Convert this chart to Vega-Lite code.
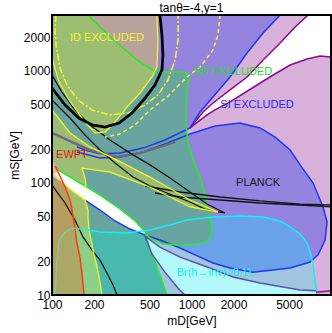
{
"$schema":"https://vega.github.io/schema/vega-lite/v6.json",
"autosize":{"type":"none"},
"padding":{"left":52,"top":15,"right":1,"bottom":38},
"width":279,"height":280,
"title":{"text":"tanθ=-4,y=1","fontSize":12,"fontWeight":"normal","font":"Liberation Sans","color":"#000","offset":-4,"anchor":"middle"},
"config":{"view":{"fill":"#d7b1d9","stroke":"#000","strokeWidth":2},
"axis":{"domain":false,"grid":false,"tickColor":"#000","tickSize":-4,"labelFlush":false,"labelOverlap":false,"labelFont":"Liberation Sans","labelFontSize":12,"labelColor":"#000","titleFont":"Liberation Sans","titleFontSize":12,"titleFontWeight":"normal","titleColor":"#000"}},
"data":{"values":[
{"r":"wTR","x":6855,"y":3162},{"r":"wTR","x":10000,"y":3162},{"r":"wTR","x":10000,"y":1334},{"r":"wTR","x":8348,"y":1361},{"r":"wTR","x":6743,"y":1280},{"r":"wTR","x":5093,"y":1131},{"r":"wTR","x":3848,"y":921},{"r":"wTR","x":2951,"y":750},{"r":"wTR","x":1889,"y":529},{"r":"wTR","x":1474,"y":449},{"r":"wTR","x":1293,"y":405},{"r":"wTR","x":976,"y":310},{"r":"wTR","x":1210,"y":430},{"r":"wTR","x":1426,"y":518},{"r":"wTR","x":1889,"y":677},{"r":"wTR","x":2501,"y":884},{"r":"wTR","x":3260,"y":1254},{"r":"wTR","x":4318,"y":1778},{"r":"wTR","x":5531,"y":2471},
{"r":"pUp","x":100,"y":3162},{"r":"pUp","x":4318,"y":3162},{"r":"pUp","x":3260,"y":2184},{"r":"pUp","x":2501,"y":1448},{"r":"pUp","x":1889,"y":884},{"r":"pUp","x":1426,"y":586},{"r":"pUp","x":1151,"y":430},{"r":"pUp","x":976,"y":310},{"r":"pUp","x":645,"y":242},{"r":"pUp","x":450,"y":205},{"r":"pUp","x":307,"y":185},{"r":"pUp","x":221,"y":182},{"r":"pUp","x":172,"y":197},{"r":"pUp","x":151,"y":210},{"r":"pUp","x":100,"y":242},
{"r":"blob","x":151,"y":189},{"r":"blob","x":221,"y":167},{"r":"blob","x":307,"y":171},{"r":"blob","x":450,"y":189},{"r":"blob","x":645,"y":223},{"r":"blob","x":976,"y":274},{"r":"blob","x":1474,"y":323},{"r":"blob","x":2228,"y":343},{"r":"blob","x":3101,"y":310},{"r":"blob","x":3976,"y":257},{"r":"blob","x":5093,"y":197},{"r":"blob","x":6007,"y":145},{"r":"blob","x":7442,"y":100},{"r":"blob","x":8777,"y":61.1},{"r":"blob","x":9373,"y":44.9},{"r":"blob","x":9069,"y":31},{"r":"blob","x":8079,"y":22.8},{"r":"blob","x":7085,"y":19.7},{"r":"blob","x":5093,"y":17.4},{"r":"blob","x":2763,"y":16},{"r":"blob","x":1889,"y":17.4},{"r":"blob","x":1426,"y":19.3},{"r":"blob","x":1060,"y":22.8},{"r":"blob","x":828,"y":26.3},{"r":"blob","x":594,"y":31},{"r":"blob","x":465,"y":34.3},{"r":"blob","x":221,"y":63.6},{"r":"blob","x":135,"y":106},{"r":"blob","x":100,"y":145},{"r":"blob","x":100,"y":189},
{"r":"cyanP","x":105.1,"y":10},{"r":"cyanP","x":108.6,"y":20.5},{"r":"cyanP","x":112.2,"y":31},{"r":"cyanP","x":124,"y":36.5},{"r":"cyanP","x":139.1,"y":39.6},{"r":"cyanP","x":164.1,"y":38.8},{"r":"cyanP","x":221,"y":36.5},{"r":"cyanP","x":345,"y":35.8},{"r":"cyanP","x":504,"y":38},{"r":"cyanP","x":701,"y":42.2},{"r":"cyanP","x":929,"y":46.7},{"r":"cyanP","x":1426,"y":49.7},{"r":"cyanP","x":2228,"y":50.7},{"r":"cyanP","x":3260,"y":49.7},{"r":"cyanP","x":4318,"y":45.8},{"r":"cyanP","x":5093,"y":40.5},{"r":"cyanP","x":6007,"y":35},{"r":"cyanP","x":6743,"y":29.1},{"r":"cyanP","x":7202,"y":22.8},{"r":"cyanP","x":7442,"y":17.8},{"r":"cyanP","x":7690,"y":13.6},{"r":"cyanP","x":7947,"y":10},
{"r":"blueP","x":465,"y":35.8},{"r":"blueP","x":504,"y":38},{"r":"blueP","x":701,"y":42.2},{"r":"blueP","x":929,"y":46.7},{"r":"blueP","x":1426,"y":49.7},{"r":"blueP","x":2228,"y":50.7},{"r":"blueP","x":3260,"y":49.7},{"r":"blueP","x":4318,"y":45.8},{"r":"blueP","x":5093,"y":40.5},{"r":"blueP","x":6007,"y":35},{"r":"blueP","x":6743,"y":29.1},{"r":"blueP","x":7202,"y":22.8},{"r":"blueP","x":7321,"y":21},{"r":"blueP","x":7085,"y":19.7},{"r":"blueP","x":5093,"y":17.4},{"r":"blueP","x":2763,"y":16},{"r":"blueP","x":1889,"y":17.4},{"r":"blueP","x":1426,"y":19.3},{"r":"blueP","x":1060,"y":22.8},{"r":"blueP","x":828,"y":26.3},{"r":"blueP","x":594,"y":31},{"r":"blueP","x":465,"y":34.3},
{"r":"steelA","x":465,"y":34.3},{"r":"steelA","x":594,"y":31},{"r":"steelA","x":828,"y":26.3},{"r":"steelA","x":1060,"y":22.8},{"r":"steelA","x":1426,"y":19.3},{"r":"steelA","x":1889,"y":17.4},{"r":"steelA","x":2763,"y":16},{"r":"steelA","x":5093,"y":17.4},{"r":"steelA","x":7085,"y":19.7},{"r":"steelA","x":7321,"y":18.5},{"r":"steelA","x":7442,"y":16.7},{"r":"steelA","x":7690,"y":13.6},{"r":"steelA","x":7818,"y":10.9},{"r":"steelA","x":6007,"y":11.1},{"r":"steelA","x":3101,"y":12.8},{"r":"steelA","x":1986,"y":14.5},{"r":"steelA","x":1293,"y":17.8},{"r":"steelA","x":828,"y":21.8},{"r":"steelA","x":594,"y":26.8},{"r":"steelA","x":465,"y":33.6},
{"r":"steelB","x":450,"y":35},{"r":"steelB","x":504,"y":25.2},{"r":"steelB","x":547,"y":19.7},{"r":"steelB","x":594,"y":15.1},{"r":"steelB","x":667,"y":10},{"r":"steelB","x":898,"y":10},{"r":"steelB","x":801,"y":11.5},{"r":"steelB","x":645,"y":16},{"r":"steelB","x":521,"y":23.2},{"r":"steelB","x":465,"y":33},
{"r":"R5","x":100,"y":3162},{"r":"R5","x":181,"y":3162},{"r":"R5","x":221,"y":2471},{"r":"R5","x":293,"y":1778},{"r":"R5","x":407,"y":1254},{"r":"R5","x":529,"y":1021},{"r":"R5","x":667,"y":980},{"r":"R5","x":828,"y":980},{"r":"R5","x":929,"y":959},{"r":"R5","x":960,"y":865},{"r":"R5","x":929,"y":677},{"r":"R5","x":913,"y":449},{"r":"R5","x":913,"y":330},{"r":"R5","x":944,"y":228},{"r":"R5","x":1060,"y":145},{"r":"R5","x":1151,"y":113},{"r":"R5","x":1251,"y":78.1},{"r":"R5","x":1314,"y":57.4},{"r":"R5","x":1380,"y":44.9},{"r":"R5","x":1403,"y":36.5},{"r":"R5","x":1314,"y":30.4},{"r":"R5","x":1095,"y":28.5},{"r":"R5","x":828,"y":28},{"r":"R5","x":624,"y":28.5},{"r":"R5","x":504,"y":32.3},{"r":"R5","x":465,"y":35.8},{"r":"R5","x":394,"y":45.8},{"r":"R5","x":307,"y":58.6},{"r":"R5","x":221,"y":78.1},{"r":"R5","x":159,"y":100},{"r":"R5","x":110,"y":131},{"r":"R5","x":100,"y":142},
{"r":"LL","x":100,"y":115},{"r":"LL","x":110.4,"y":111},{"r":"LL","x":134.6,"y":88.4},{"r":"LL","x":172.4,"y":70.5},{"r":"LL","x":221,"y":57.4},{"r":"LL","x":283,"y":45.8},{"r":"LL","x":363,"y":38.8},{"r":"LL","x":465,"y":35},{"r":"LL","x":504,"y":25.2},{"r":"LL","x":547,"y":19.7},{"r":"LL","x":594,"y":15.1},{"r":"LL","x":667,"y":10},{"r":"LL","x":100,"y":10},
{"r":"LLc","x":105.1,"y":10},{"r":"LLc","x":108.6,"y":20.5},{"r":"LLc","x":112.2,"y":31},{"r":"LLc","x":124,"y":36.5},{"r":"LLc","x":139.1,"y":39.6},{"r":"LLc","x":164.1,"y":38.8},{"r":"LLc","x":221,"y":36.5},{"r":"LLc","x":345,"y":35.8},{"r":"LLc","x":465,"y":35},{"r":"LLc","x":504,"y":25.2},{"r":"LLc","x":547,"y":19.7},{"r":"LLc","x":594,"y":15.1},{"r":"LLc","x":667,"y":10},
{"r":"brown","x":100,"y":106},{"r":"brown","x":117.9,"y":102},{"r":"brown","x":124,"y":92.1},{"r":"brown","x":134.6,"y":70.5},{"r":"brown","x":139.1,"y":57.4},{"r":"brown","x":146.1,"y":39.6},{"r":"brown","x":151,"y":29.1},{"r":"brown","x":158.7,"y":21.4},{"r":"brown","x":164.1,"y":15.7},{"r":"brown","x":169.6,"y":10},{"r":"brown","x":100,"y":10},
{"r":"brownIn","x":105.1,"y":10},{"r":"brownIn","x":108.6,"y":20.5},{"r":"brownIn","x":112.2,"y":31},{"r":"brownIn","x":124,"y":36.5},{"r":"brownIn","x":139.1,"y":39.6},{"r":"brownIn","x":146.1,"y":38.8},{"r":"brownIn","x":151,"y":29.1},{"r":"brownIn","x":158.7,"y":21.4},{"r":"brownIn","x":164.1,"y":15.7},{"r":"brownIn","x":169.6,"y":10},
{"r":"olStrip","x":124,"y":92.1},{"r":"olStrip","x":134.6,"y":88.4},{"r":"olStrip","x":172.4,"y":70.5},{"r":"olStrip","x":181.2,"y":57.4},{"r":"olStrip","x":181.2,"y":48.7},{"r":"olStrip","x":184.2,"y":38.8},{"r":"olStrip","x":146.1,"y":38.8},{"r":"olStrip","x":139.1,"y":57.4},{"r":"olStrip","x":134.6,"y":70.5},
{"r":"lgStrip","x":146.1,"y":38.8},{"r":"lgStrip","x":184.2,"y":38.8},{"r":"lgStrip","x":187.3,"y":34.3},{"r":"lgStrip","x":193.6,"y":28},{"r":"lgStrip","x":200.1,"y":22.8},{"r":"lgStrip","x":210.2,"y":17.8},{"r":"lgStrip","x":217.3,"y":14.5},{"r":"lgStrip","x":228.4,"y":10},{"r":"lgStrip","x":169.6,"y":10},{"r":"lgStrip","x":164.1,"y":15.7},{"r":"lgStrip","x":158.7,"y":21.4},{"r":"lgStrip","x":151,"y":29.1},
{"r":"ID","x":100,"y":3162},{"r":"ID","x":565,"y":3162},{"r":"ID","x":575,"y":1778},{"r":"ID","x":565,"y":1086},{"r":"ID","x":521,"y":884},{"r":"ID","x":428,"y":636},{"r":"ID","x":345,"y":477},{"r":"ID","x":283,"y":350},{"r":"ID","x":240,"y":285},{"r":"ID","x":203.4,"y":280},{"r":"ID","x":172.4,"y":350},{"r":"ID","x":132.4,"y":551},{"r":"ID","x":112.2,"y":798},{"r":"ID","x":100,"y":1306},
{"r":"mauve","x":181,"y":3162},{"r":"mauve","x":565,"y":3162},{"r":"mauve","x":575,"y":1778},{"r":"mauve","x":565,"y":1086},{"r":"mauve","x":529,"y":1021},{"r":"mauve","x":407,"y":1254},{"r":"mauve","x":293,"y":1778},{"r":"mauve","x":221,"y":2471},
{"r":"band2","x":100,"y":449},{"r":"band2","x":134.6,"y":280},{"r":"band2","x":187.3,"y":210},{"r":"band2","x":292.7,"y":160},{"r":"band2","x":504,"y":113},{"r":"band2","x":976,"y":70.5},{"r":"band2","x":1546,"y":55.1},{"r":"band2","x":976,"y":61.1},{"r":"band2","x":504,"y":92.1},{"r":"band2","x":260.5,"y":125},{"r":"band2","x":164.1,"y":136},{"r":"band2","x":172.4,"y":111},{"r":"band2","x":175.3,"y":90.2},{"r":"band2","x":158.7,"y":98},{"r":"band2","x":110.4,"y":131},{"r":"band2","x":100,"y":136},
{"r":"pinkSpot","x":100,"y":167},{"r":"pinkSpot","x":106.8,"y":142},{"r":"pinkSpot","x":114.1,"y":120},{"r":"pinkSpot","x":119.9,"y":102},{"r":"pinkSpot","x":110.4,"y":106},{"r":"pinkSpot","x":100,"y":115},
{"r":"wedge","x":110.4,"y":131},{"r":"wedge","x":158.7,"y":100},{"r":"wedge","x":220.9,"y":78.1},{"r":"wedge","x":307.4,"y":58.6},{"r":"wedge","x":394.2,"y":45.8},{"r":"wedge","x":465,"y":36.5},{"r":"wedge","x":450,"y":35},{"r":"wedge","x":362.8,"y":38.8},{"r":"wedge","x":283.2,"y":45.8},{"r":"wedge","x":220.9,"y":57.4},{"r":"wedge","x":172.4,"y":70.5},{"r":"wedge","x":134.6,"y":88.4},{"r":"wedge","x":110.4,"y":111},{"r":"wedge","x":105.1,"y":120},
{"r":"purU","x":6855,"y":3162},{"r":"purU","x":5531,"y":2471},{"r":"purU","x":4318,"y":1778},{"r":"purU","x":3260,"y":1254},{"r":"purU","x":2501,"y":884},{"r":"purU","x":1889,"y":677},{"r":"purU","x":1426,"y":518},{"r":"purU","x":1210,"y":430},{"r":"purU","x":976,"y":310},
{"r":"purL","x":10000,"y":1334},{"r":"purL","x":8348,"y":1361},{"r":"purL","x":6743,"y":1280},{"r":"purL","x":5093,"y":1131},{"r":"purL","x":3848,"y":921},{"r":"purL","x":2951,"y":750},{"r":"purL","x":1889,"y":529},{"r":"purL","x":1474,"y":449},{"r":"purL","x":1293,"y":405},{"r":"purL","x":976,"y":310},
{"r":"B1","x":4318,"y":3162},{"r":"B1","x":3260,"y":2184},{"r":"B1","x":2501,"y":1448},{"r":"B1","x":1889,"y":884},{"r":"B1","x":1426,"y":586},{"r":"B1","x":1151,"y":430},{"r":"B1","x":976,"y":310},{"r":"B1","x":645,"y":242},{"r":"B1","x":450,"y":205},{"r":"B1","x":307,"y":185},{"r":"B1","x":221,"y":182},{"r":"B1","x":172,"y":197},{"r":"B1","x":151,"y":210},
{"r":"B2","x":151,"y":189},{"r":"B2","x":221,"y":167},{"r":"B2","x":307,"y":171},{"r":"B2","x":450,"y":189},{"r":"B2","x":645,"y":223},{"r":"B2","x":976,"y":274},{"r":"B2","x":1474,"y":323},{"r":"B2","x":2228,"y":343},{"r":"B2","x":3101,"y":310},{"r":"B2","x":3976,"y":257},{"r":"B2","x":5093,"y":197},{"r":"B2","x":6007,"y":145},{"r":"B2","x":7442,"y":100},{"r":"B2","x":8777,"y":61.1},{"r":"B2","x":9373,"y":44.9},{"r":"B2","x":9069,"y":31},{"r":"B2","x":8079,"y":22.8},{"r":"B2","x":7085,"y":19.7},{"r":"B2","x":5093,"y":17.4},{"r":"B2","x":2763,"y":16},{"r":"B2","x":1889,"y":17.4},{"r":"B2","x":1426,"y":19.3},{"r":"B2","x":1060,"y":22.8},{"r":"B2","x":828,"y":26.3},{"r":"B2","x":594,"y":31},{"r":"B2","x":465,"y":34.3},{"r":"B2","x":362.8,"y":38.8},{"r":"B2","x":283.2,"y":45.8},{"r":"B2","x":220.9,"y":57.4},{"r":"B2","x":172.4,"y":70.5},
{"r":"G1","x":181,"y":3162},{"r":"G1","x":221,"y":2471},{"r":"G1","x":293,"y":1778},{"r":"G1","x":407,"y":1254},{"r":"G1","x":529,"y":1021},{"r":"G1","x":667,"y":980},{"r":"G1","x":828,"y":980},{"r":"G1","x":929,"y":959},{"r":"G1","x":960,"y":865},{"r":"G1","x":929,"y":677},{"r":"G1","x":913,"y":449},{"r":"G1","x":913,"y":330},{"r":"G1","x":944,"y":228},{"r":"G1","x":1060,"y":145},{"r":"G1","x":1151,"y":113},{"r":"G1","x":1251,"y":78.1},{"r":"G1","x":1314,"y":57.4},{"r":"G1","x":1380,"y":44.9},{"r":"G1","x":1403,"y":36.5},{"r":"G1","x":1314,"y":30.4},{"r":"G1","x":1095,"y":28.5},{"r":"G1","x":828,"y":28},{"r":"G1","x":624,"y":28.5},{"r":"G1","x":504,"y":32.3},{"r":"G1","x":465,"y":35.8},{"r":"G1","x":504,"y":25.2},{"r":"G1","x":547,"y":19.7},{"r":"G1","x":594,"y":15.1},{"r":"G1","x":667,"y":10},
{"r":"G2","x":110.4,"y":131},{"r":"G2","x":158.7,"y":100},{"r":"G2","x":220.9,"y":78.1},{"r":"G2","x":307.4,"y":58.6},{"r":"G2","x":394.2,"y":45.8},{"r":"G2","x":465,"y":36.5},
{"r":"gray","x":100,"y":280},{"r":"gray","x":134.6,"y":237},{"r":"gray","x":187.3,"y":197},{"r":"gray","x":292.7,"y":171},{"r":"gray","x":428,"y":185},{"r":"gray","x":594,"y":210},{"r":"gray","x":762,"y":232},
{"r":"K1","x":100,"y":705},{"r":"K1","x":124,"y":497},{"r":"K1","x":156,"y":380},{"r":"K1","x":193.6,"y":330},{"r":"K1","x":240,"y":316},{"r":"K1","x":302.5,"y":343},{"r":"K1","x":375,"y":422},{"r":"K1","x":465,"y":574},{"r":"K1","x":547,"y":750},{"r":"K1","x":614,"y":1021},{"r":"K1","x":624,"y":1389},{"r":"K1","x":614,"y":2096},{"r":"K1","x":594,"y":3162},
{"r":"K2","x":100,"y":921},{"r":"K2","x":117.9,"y":649},{"r":"K2","x":146.1,"y":449},{"r":"K2","x":187.3,"y":330},{"r":"K2","x":260.5,"y":242},{"r":"K2","x":363,"y":185},{"r":"K2","x":504,"y":145},{"r":"K2","x":701,"y":111},{"r":"K2","x":976,"y":83.1},{"r":"K2","x":1293,"y":64.9},{"r":"K2","x":1739,"y":54},
{"r":"K3","x":100,"y":551},{"r":"K3","x":134.6,"y":380},{"r":"K3","x":172.4,"y":268},{"r":"K3","x":221,"y":197},{"r":"K3","x":283,"y":151},{"r":"K3","x":381,"y":113},{"r":"K3","x":504,"y":94},{"r":"K3","x":667,"y":81.4},{"r":"K3","x":976,"y":67.7},{"r":"K3","x":1293,"y":57.4},{"r":"K3","x":1739,"y":54},
{"r":"K5a","x":465,"y":94},{"r":"K5a","x":828,"y":83.1},{"r":"K5a","x":1601,"y":75},{"r":"K5a","x":3101,"y":69.1},{"r":"K5a","x":6007,"y":64.9},{"r":"K5a","x":10000,"y":63.6},
{"r":"K5b","x":547,"y":81.4},{"r":"K5b","x":828,"y":75},{"r":"K5b","x":1601,"y":70.5},{"r":"K5b","x":3101,"y":66.3},{"r":"K5b","x":6007,"y":63.6},{"r":"K5b","x":10000,"y":61.1},
{"r":"K6","x":100,"y":95.9},{"r":"K6","x":124,"y":66.3},{"r":"K6","x":146.1,"y":46.7},{"r":"K6","x":166.8,"y":33},{"r":"K6","x":193.6,"y":25.2},{"r":"K6","x":221,"y":20.5},{"r":"K6","x":252.1,"y":15.1},{"r":"K6","x":273.7,"y":12.3},{"r":"K6","x":292.7,"y":10},
{"r":"Y1","x":565,"y":3162},{"r":"Y1","x":575,"y":1778},{"r":"Y1","x":565,"y":1086},{"r":"Y1","x":521,"y":884},{"r":"Y1","x":428,"y":636},{"r":"Y1","x":345,"y":477},{"r":"Y1","x":283,"y":350},{"r":"Y1","x":240,"y":285},{"r":"Y1","x":203.4,"y":280},{"r":"Y1","x":172.4,"y":350},{"r":"Y1","x":132.4,"y":551},{"r":"Y1","x":112.2,"y":798},{"r":"Y1","x":100,"y":1306},
{"r":"Y2","x":100,"y":449},{"r":"Y2","x":134.6,"y":280},{"r":"Y2","x":187.3,"y":210},{"r":"Y2","x":292.7,"y":160},{"r":"Y2","x":504,"y":113},{"r":"Y2","x":976,"y":70.5},{"r":"Y2","x":1546,"y":55.1},
{"r":"Y3","x":1546,"y":55.1},{"r":"Y3","x":976,"y":61.1},{"r":"Y3","x":504,"y":92.1},{"r":"Y3","x":260.5,"y":125},{"r":"Y3","x":164.1,"y":136},{"r":"Y3","x":172.4,"y":111},{"r":"Y3","x":175.3,"y":90.2},
{"r":"Ylow","x":100,"y":123},{"r":"Ylow","x":110.4,"y":111},{"r":"Ylow","x":134.6,"y":88.4},{"r":"Ylow","x":172.4,"y":70.5},{"r":"Ylow","x":181.2,"y":57.4},{"r":"Ylow","x":181.2,"y":48.7},{"r":"Ylow","x":184.2,"y":38.8},{"r":"Ylow","x":187.3,"y":34.3},{"r":"Ylow","x":193.6,"y":28},{"r":"Ylow","x":200.1,"y":22.8},{"r":"Ylow","x":210.2,"y":17.8},{"r":"Ylow","x":217.3,"y":14.5},{"r":"Ylow","x":228.4,"y":10},
{"r":"D1","x":106.8,"y":3162},{"r":"D1","x":105.1,"y":2323},{"r":"D1","x":106.8,"y":1707},{"r":"D1","x":114.1,"y":1064},{"r":"D1","x":128.1,"y":750},{"r":"D1","x":153.5,"y":551},{"r":"D1","x":193.6,"y":449},{"r":"D1","x":260.5,"y":405},{"r":"D1","x":351.2,"y":422},{"r":"D1","x":465,"y":497},{"r":"D1","x":574.6,"y":611},{"r":"D1","x":678.2,"y":831},{"r":"D1","x":762,"y":1254},{"r":"D1","x":801.1,"y":1892},{"r":"D1","x":801.1,"y":3162},
{"r":"D2","x":1601,"y":3162},{"r":"D2","x":1546,"y":2096},{"r":"D2","x":1426,"y":1540},{"r":"D2","x":1151,"y":1086},{"r":"D2","x":929,"y":884},{"r":"D2","x":667,"y":586},{"r":"D2","x":504,"y":449},{"r":"D2","x":394,"y":330},{"r":"D2","x":307,"y":274},{"r":"D2","x":240,"y":257},
{"r":"red","x":105.1,"y":142},{"r":"red","x":114.1,"y":115},{"r":"red","x":124,"y":92.1},{"r":"red","x":134.6,"y":70.5},{"r":"red","x":139.1,"y":57.4},{"r":"red","x":146.1,"y":39.6},{"r":"red","x":151,"y":29.1},{"r":"red","x":158.7,"y":21.4},{"r":"red","x":164.1,"y":15.7},{"r":"red","x":169.6,"y":10},
{"r":"cyanL","x":164.1,"y":38.8},{"r":"cyanL","x":221,"y":36.5},{"r":"cyanL","x":345,"y":35.8},{"r":"cyanL","x":504,"y":38},{"r":"cyanL","x":701,"y":42.2},{"r":"cyanL","x":929,"y":46.7},{"r":"cyanL","x":1426,"y":49.7},{"r":"cyanL","x":2228,"y":50.7},{"r":"cyanL","x":3260,"y":49.7},{"r":"cyanL","x":4318,"y":45.8},{"r":"cyanL","x":5093,"y":40.5},{"r":"cyanL","x":6007,"y":35},{"r":"cyanL","x":6743,"y":29.1},{"r":"cyanL","x":7202,"y":22.8},{"r":"cyanL","x":7442,"y":17.8},{"r":"cyanL","x":7690,"y":13.6},{"r":"cyanL","x":7947,"y":10},
{"r":"pale","x":105.1,"y":10},{"r":"pale","x":108.6,"y":20.5},{"r":"pale","x":112.2,"y":31},{"r":"pale","x":124,"y":36.5},{"r":"pale","x":139.1,"y":39.6},{"r":"pale","x":164.1,"y":38.8},
{"r":"S1","x":465,"y":33},{"r":"S1","x":521,"y":23.2},{"r":"S1","x":645,"y":16},{"r":"S1","x":801,"y":11.5},{"r":"S1","x":898,"y":10},
{"r":"S2","x":465,"y":33.6},{"r":"S2","x":594,"y":26.8},{"r":"S2","x":828,"y":21.8},{"r":"S2","x":1293,"y":17.8},{"r":"S2","x":1986,"y":14.5},{"r":"S2","x":3101,"y":12.8},{"r":"S2","x":6007,"y":11.1},{"r":"S2","x":7818,"y":10.9},
{"r":"mag","x":7818,"y":10.6},{"r":"mag","x":10000,"y":10.9},
{"r":"frame","x":100,"y":10},{"r":"frame","x":10000,"y":10},{"r":"frame","x":10000,"y":3162},{"r":"frame","x":100,"y":3162},{"r":"frame","x":100,"y":10},
{"r":"txt","label":"ID EXCLUDED","x":248,"y":1971},
{"r":"txt","label":"SD EXCLUDED","x":1984,"y":980},
{"r":"txt","label":"SI EXCLUDED","x":2949,"y":497},
{"r":"txt","label":"PLANCK","x":3000,"y":100},
{"r":"txt","label":"EWPT","x":139,"y":178},
{"r":"txt","label":"Br(h→inv)>0.11","x":1473,"y":15.7}
]},
"encoding":{
"x":{"field":"x","type":"quantitative","scale":{"type":"log","domain":[100,10000],"nice":false},"axis":{"values":[100,200,500,1000,2000,5000],"format":"d","title":"mD[GeV]","labelPadding":8,"titlePadding":5}},
"y":{"field":"y","type":"quantitative","scale":{"type":"log","domain":[10,3162],"nice":false},"axis":{"values":[10,20,50,100,200,500,1000,2000],"format":"d","title":"mS[GeV]","labelPadding":6,"titlePadding":2}},
"order":{"value":null}
},
"layer":[
{"transform":[{"filter":"datum.r=='wTR'"}],"mark":{"type":"line","fill":"#ffffff","strokeWidth":0,"clip":true}},
{"transform":[{"filter":"datum.r=='pUp'"}],"mark":{"type":"line","fill":"#9583e0","strokeWidth":0,"clip":true}},
{"transform":[{"filter":"datum.r=='blob'"}],"mark":{"type":"line","fill":"#9583e0","strokeWidth":0,"clip":true}},
{"transform":[{"filter":"datum.r=='cyanP'"}],"mark":{"type":"line","fill":"#b3f9f9","strokeWidth":0,"clip":true}},
{"transform":[{"filter":"datum.r=='blueP'"}],"mark":{"type":"line","fill":"#6ba1e8","strokeWidth":0,"clip":true}},
{"transform":[{"filter":"datum.r=='steelA'"}],"mark":{"type":"line","fill":"#a0c5de","strokeWidth":0,"clip":true}},
{"transform":[{"filter":"datum.r=='steelB'"}],"mark":{"type":"line","fill":"#a0c5de","strokeWidth":0,"clip":true}},
{"transform":[{"filter":"datum.r=='R5'"}],"mark":{"type":"line","fill":"#68a5a0","strokeWidth":0,"clip":true}},
{"transform":[{"filter":"datum.r=='LL'"}],"mark":{"type":"line","fill":"#68a5a0","strokeWidth":0,"clip":true}},
{"transform":[{"filter":"datum.r=='LLc'"}],"mark":{"type":"line","fill":"#49b8af","strokeWidth":0,"clip":true}},
{"transform":[{"filter":"datum.r=='brown'"}],"mark":{"type":"line","fill":"#b59e60","strokeWidth":0,"clip":true}},
{"transform":[{"filter":"datum.r=='brownIn'"}],"mark":{"type":"line","fill":"#aca968","strokeWidth":0,"clip":true}},
{"transform":[{"filter":"datum.r=='olStrip'"}],"mark":{"type":"line","fill":"#a0bf6f","strokeWidth":0,"clip":true}},
{"transform":[{"filter":"datum.r=='lgStrip'"}],"mark":{"type":"line","fill":"#8dcf87","strokeWidth":0,"clip":true}},
{"transform":[{"filter":"datum.r=='ID'"}],"mark":{"type":"line","fill":"#9bbe72","strokeWidth":0,"clip":true}},
{"transform":[{"filter":"datum.r=='mauve'"}],"mark":{"type":"line","fill":"#b9a19c","strokeWidth":0,"clip":true}},
{"transform":[{"filter":"datum.r=='band2'"}],"mark":{"type":"line","fill":"#9cbe74","strokeWidth":0,"clip":true}},
{"transform":[{"filter":"datum.r=='pinkSpot'"}],"mark":{"type":"line","fill":"#f1b3b1","strokeWidth":0,"clip":true}},
{"transform":[{"filter":"datum.r=='wedge'"}],"mark":{"type":"line","fill":"#ffffff","strokeWidth":0,"clip":true}},
{"transform":[{"filter":"datum.r=='purU'"}],"mark":{"type":"line","stroke":"#8a0a8a","strokeWidth":1.5,"clip":true}},
{"transform":[{"filter":"datum.r=='purL'"}],"mark":{"type":"line","stroke":"#8a0a8a","strokeWidth":1.5,"clip":true}},
{"transform":[{"filter":"datum.r=='B1'"}],"mark":{"type":"line","stroke":"#1c38f0","strokeWidth":1.5,"clip":true}},
{"transform":[{"filter":"datum.r=='B2'"}],"mark":{"type":"line","stroke":"#1c38f0","strokeWidth":1.5,"clip":true}},
{"transform":[{"filter":"datum.r=='G1'"}],"mark":{"type":"line","stroke":"#22ee22","strokeWidth":1.5,"clip":true}},
{"transform":[{"filter":"datum.r=='G2'"}],"mark":{"type":"line","stroke":"#22ee22","strokeWidth":1.5,"clip":true}},
{"transform":[{"filter":"datum.r=='gray'"}],"mark":{"type":"line","stroke":"#6e6a7c","strokeWidth":2.5,"clip":true}},
{"transform":[{"filter":"datum.r=='K2'"}],"mark":{"type":"line","stroke":"#111111","strokeWidth":1.3,"clip":true}},
{"transform":[{"filter":"datum.r=='K3'"}],"mark":{"type":"line","stroke":"#111111","strokeWidth":1.3,"clip":true}},
{"transform":[{"filter":"datum.r=='K5a'"}],"mark":{"type":"line","stroke":"#111111","strokeWidth":1.3,"clip":true}},
{"transform":[{"filter":"datum.r=='K5b'"}],"mark":{"type":"line","stroke":"#111111","strokeWidth":1.3,"clip":true}},
{"transform":[{"filter":"datum.r=='K6'"}],"mark":{"type":"line","stroke":"#111111","strokeWidth":1.3,"clip":true}},
{"transform":[{"filter":"datum.r=='Y1'"}],"mark":{"type":"line","stroke":"#f5f520","strokeWidth":1.3,"clip":true}},
{"transform":[{"filter":"datum.r=='Y2'"}],"mark":{"type":"line","stroke":"#f5f520","strokeWidth":1.3,"clip":true}},
{"transform":[{"filter":"datum.r=='Y3'"}],"mark":{"type":"line","stroke":"#f5f520","strokeWidth":1.3,"clip":true}},
{"transform":[{"filter":"datum.r=='Ylow'"}],"mark":{"type":"line","stroke":"#f5f520","strokeWidth":1.3,"clip":true}},
{"transform":[{"filter":"datum.r=='D1'"}],"mark":{"type":"line","stroke":"#f5f530","strokeWidth":1.5,"strokeDash":[7,2,2,2],"clip":true}},
{"transform":[{"filter":"datum.r=='D2'"}],"mark":{"type":"line","stroke":"#f5f530","strokeWidth":1.5,"strokeDash":[4,3],"clip":true}},
{"transform":[{"filter":"datum.r=='K1'"}],"mark":{"type":"line","stroke":"#000000","strokeWidth":2.8,"clip":true}},
{"transform":[{"filter":"datum.r=='red'"}],"mark":{"type":"line","stroke":"#ff3b12","strokeWidth":1.5,"clip":true}},
{"transform":[{"filter":"datum.r=='cyanL'"}],"mark":{"type":"line","stroke":"#10f0f8","strokeWidth":1.5,"clip":true}},
{"transform":[{"filter":"datum.r=='pale'"}],"mark":{"type":"line","stroke":"#78cfa0","strokeWidth":1.3,"clip":true}},
{"transform":[{"filter":"datum.r=='S1'"}],"mark":{"type":"line","stroke":"#5b50b0","strokeWidth":1.5,"clip":true}},
{"transform":[{"filter":"datum.r=='S2'"}],"mark":{"type":"line","stroke":"#5b50b0","strokeWidth":1.5,"clip":true}},
{"transform":[{"filter":"datum.r=='mag'"}],"mark":{"type":"line","stroke":"#a000a0","strokeWidth":1.5,"clip":true}},
{"transform":[{"filter":"datum.r=='frame'"}],"mark":{"type":"line","stroke":"#000000","strokeWidth":2,"clip":false}},
{"transform":[{"filter":"datum.r=='txt'"}],"mark":{"type":"text","fontSize":11,"font":"Liberation Sans"},
"encoding":{"text":{"field":"label"},"color":{"field":"label","type":"nominal","legend":null,"scale":{"domain":["ID EXCLUDED","SD EXCLUDED","SI EXCLUDED","PLANCK","EWPT","Br(h→inv)>0.11"],"range":["#f5f530","#22e022","#2a2ae8","#1a1a1a","#e81010","#10f0f8"]}}}}
]
}
